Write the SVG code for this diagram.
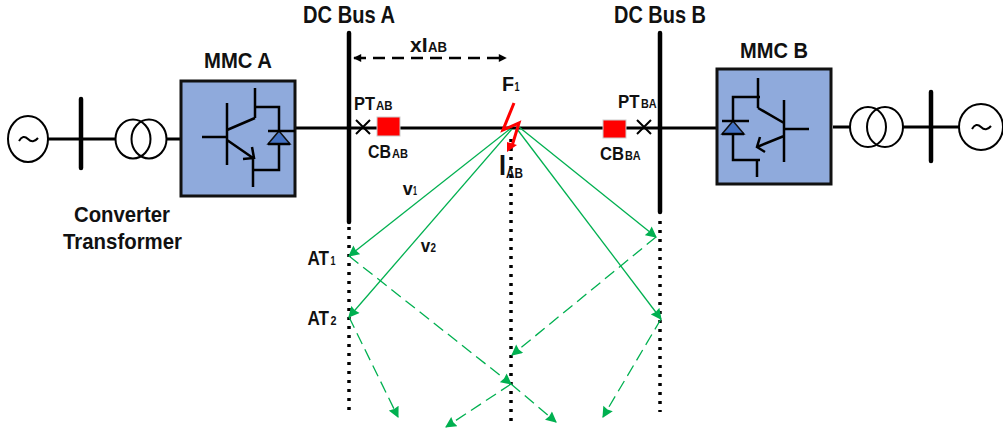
<svg xmlns="http://www.w3.org/2000/svg" width="1003" height="434" viewBox="0 0 1003 434">
<style>
text{font-family:"Liberation Sans",Arial,sans-serif;font-weight:bold;fill:#111}
.l{font-size:22px}.m{font-size:18px}.s{font-size:13px}
.w{fill:none;stroke:#000;stroke-width:3}
.i{fill:none;stroke:#000;stroke-width:2.5}
.t{fill:none;stroke:#000;stroke-width:2}
.bar{fill:none;stroke:#000;stroke-width:4.5;stroke-linecap:round}
.box{fill:#8faadc;stroke:#111;stroke-width:3}
.dot{fill:none;stroke:#000;stroke-width:3.5;stroke-dasharray:3 6}
.g{fill:none;stroke:#00b050;stroke-width:1.3;marker-end:url(#ga)}
.gd{fill:none;stroke:#00b050;stroke-width:1.3;stroke-dasharray:12 6;marker-end:url(#ga)}
.cb{fill:#f00;stroke:#ccc;stroke-width:1}
</style>
<defs>
<marker id="ga" viewBox="0 0 10 10" refX="9" refY="5" markerWidth="12" markerHeight="11" markerUnits="userSpaceOnUse" orient="auto"><path d="M0 0L10 5L0 10L1 5Z" fill="#00b050"/></marker>
<marker id="ba" viewBox="0 0 10 10" refX="9" refY="5" markerWidth="10" markerHeight="8" markerUnits="userSpaceOnUse" orient="auto-start-reverse"><path d="M0 0L10 5L0 10Z" fill="#000"/></marker>
</defs>
<g id="connectors">
<path class="w" d="M295 128H716M48 139H116M167 139H181M833 127H851M903 127H959"/>
<path class="dot" d="M349 227V416M660 221V412M511 139V421"/>
<path d="M354 58H506" fill="none" stroke="#000" stroke-width="2.5" stroke-dasharray="12 7" marker-start="url(#ba)" marker-end="url(#ba)"/>
<path class="g" d="M510 129L349 256"/>
<path class="g" d="M512 129L349 317"/>
<path class="g" d="M519 127L656 237"/>
<path class="g" d="M517 129L661 319"/>
<path class="gd" d="M349 256L511 384"/>
<path class="gd" d="M511 384L556 422"/>
<path class="gd" d="M349 317L398 417"/>
<path class="gd" d="M656 237L512 355"/>
<path class="gd" d="M661 319L603 417"/>
<path class="gd" d="M511 384L446 427"/>
</g>
<g id="source-a"><ellipse class="t" cx="28" cy="139" rx="20" ry="23"/><path class="t" d="M19 141Q23 134 28 139T38 138"/></g>
<g id="ac-bus-a"><path class="bar" d="M81 99V168"/></g>
<g id="transformer-a"><ellipse class="t" cx="133" cy="139" rx="17.5" ry="19.5"/><ellipse class="t" cx="149" cy="139" rx="17.5" ry="19.5"/>
<text class="l" x="74" y="222" textLength="96" lengthAdjust="spacingAndGlyphs">Converter</text>
<text class="l" x="63" y="249" textLength="119" lengthAdjust="spacingAndGlyphs">Transformer</text></g>
<g id="mmc-a"><rect class="box" x="181" y="81" width="114" height="115"/>
<path class="i" d="M227 103V165M202 137H227M227 130L255 118M255 88V118M255 107H279V170H253M253 157V187M227 140L253 158M243 159L254 158L252 147"/>
<path d="M279 131L290 144H268Z" fill="#4472c4" stroke="#111" stroke-width="1.5"/><path class="i" d="M268 131H295M268 144H290"/>
<text class="l" x="204" y="68" textLength="68" lengthAdjust="spacingAndGlyphs">MMC A</text></g>
<g id="dc-bus-a"><path class="bar" d="M349 33V222"/><text font-size="23" x="303" y="23" textLength="92" lengthAdjust="spacingAndGlyphs">DC Bus A</text></g>
<g id="pt-ab"><path class="t" d="M356 120L370 134M370 120L356 134"/><text class="m" x="354" y="110" textLength="21" lengthAdjust="spacingAndGlyphs">PT</text><text class="s" x="376" y="110" textLength="16.5" lengthAdjust="spacingAndGlyphs">AB</text></g>
<g id="cb-ab"><rect class="cb" x="377" y="117" width="23" height="19"/><text class="m" x="368" y="158" textLength="23" lengthAdjust="spacingAndGlyphs">CB</text><text class="s" x="392" y="158" textLength="16" lengthAdjust="spacingAndGlyphs">AB</text></g>
<g id="distance"><text font-size="21" x="410" y="52">xI</text><text font-size="14" x="428" y="52" textLength="19" lengthAdjust="spacingAndGlyphs">AB</text></g>
<g id="fault"><path d="M514 103L503 130L519 123L512 146" fill="none" stroke="#f00" stroke-width="3"/><path d="M507 142L517 145L507 152Z" fill="#f00"/>
<text font-size="21" x="502" y="91" textLength="12" lengthAdjust="spacingAndGlyphs">F</text><text class="s" x="514.5" y="91" textLength="5" lengthAdjust="spacingAndGlyphs">1</text>
<text x="499" y="175" font-size="30" textLength="7" lengthAdjust="spacingAndGlyphs">I</text><text x="506" y="178" font-size="14" textLength="17" lengthAdjust="spacingAndGlyphs">AB</text></g>
<g id="pt-ba"><path class="t" d="M637 120L651 134M651 120L637 134"/><text class="m" x="618" y="108" textLength="21.5" lengthAdjust="spacingAndGlyphs">PT</text><text class="s" x="641" y="108" textLength="15.7" lengthAdjust="spacingAndGlyphs">BA</text></g>
<g id="cb-ba"><rect class="cb" x="603" y="120" width="23" height="18"/><text class="m" x="600" y="160" textLength="24" lengthAdjust="spacingAndGlyphs">CB</text><text class="s" x="625" y="160" textLength="15.7" lengthAdjust="spacingAndGlyphs">BA</text></g>
<g id="dc-bus-b"><path class="bar" d="M660 33V212"/><text font-size="23" x="614" y="23" textLength="92" lengthAdjust="spacingAndGlyphs">DC Bus B</text></g>
<g id="mmc-b"><rect class="box" x="717" y="69" width="114" height="115"/>
<path class="i" d="M784 100V162M784 129H809M784 123L758 108M758 78V108M760 97H733V160H760M757 160V177M784 136L757 147M760 137L757 147L765 152"/>
<path d="M733 121L744 134H722Z" fill="#4472c4" stroke="#111" stroke-width="1.5"/><path class="i" d="M722 121H749M722 134H744"/>
<text class="l" x="740" y="58" textLength="68" lengthAdjust="spacingAndGlyphs">MMC B</text></g>
<g id="transformer-b"><ellipse class="t" cx="868" cy="127" rx="18" ry="20"/><ellipse class="t" cx="885" cy="127" rx="18" ry="20"/></g>
<g id="ac-bus-b"><path class="bar" d="M931 92V161"/></g>
<g id="source-b"><ellipse class="t" cx="981" cy="127" rx="22" ry="23"/><path class="t" d="M972 129Q976 122 981 127T991 126"/></g>
<g id="labels">
<text font-size="18" x="402.7" y="195" textLength="10" lengthAdjust="spacingAndGlyphs">v</text><text font-size="12" x="413" y="195" textLength="4" lengthAdjust="spacingAndGlyphs">1</text>
<text font-size="18" x="420.7" y="252" textLength="9.5" lengthAdjust="spacingAndGlyphs">v</text><text font-size="12" x="430.5" y="252" textLength="5.5" lengthAdjust="spacingAndGlyphs">2</text>
<text font-size="19.5" x="307.5" y="265" textLength="21.5" lengthAdjust="spacingAndGlyphs">AT</text><text class="s" x="330.5" y="265" textLength="5" lengthAdjust="spacingAndGlyphs">1</text>
<text font-size="19.5" x="307.5" y="325" textLength="21.5" lengthAdjust="spacingAndGlyphs">AT</text><text class="s" x="330.5" y="325" textLength="6" lengthAdjust="spacingAndGlyphs">2</text>
</g>
</svg>
